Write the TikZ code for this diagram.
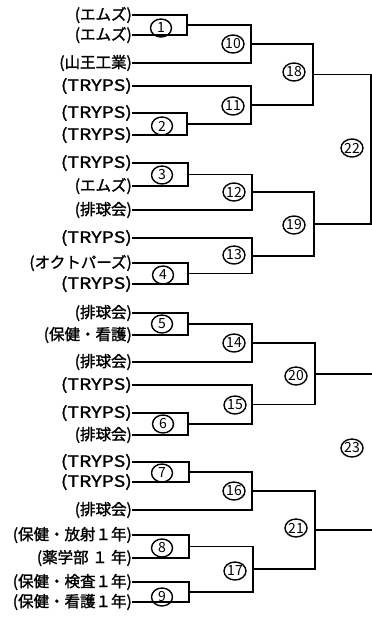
\documentclass[tikz,border=0pt]{standalone}
\usepackage{fontspec}
\newfontfamily\jp{Noto Sans CJK JP}[AutoFakeBold=1.5]
\newfontfamily\jplat{Noto Sans CJK JP}[FakeStretch=1.25, AutoFakeBold=1.5]
\usepackage{tikz}
\usetikzlibrary{positioning, shapes.geometric}

\begin{document}
\begin{tikzpicture}[x=1pt, y=-1pt]

\tikzstyle{team} = [anchor=east, inner sep=0pt, font=\jp\bfseries\fontsize{15.5}{16}\selectfont];
\tikzstyle{num} = [draw, ellipse, line width=1.4pt, inner sep=0pt, minimum width=21pt, minimum height=18pt, font=\jp\fontsize{14}{14}\selectfont];
\tikzstyle{line} = [line width=1.7pt];

\useasboundingbox (0,0) rectangle (372,621);

% teams
\node(t1) [team] at (132,15) {(エムズ)};
\node(t2) [team] at (132,35) {(エムズ)};
\node(t3) [team] at (132,63) {(山王工業)};
\node(t4) [team] at (132,86) {\jplat (TRYPS)};
\node(t5) [team] at (132,113) {\jplat (TRYPS)};
\node(t6) [team] at (132,135) {\jplat (TRYPS)};
\node(t7) [team] at (132,163) {\jplat (TRYPS)};
\node(t8) [team] at (132,186) {(エムズ)};
\node(t9) [team] at (132,210) {(排球会)};
\node(t10) [team] at (132,238) {\jplat (TRYPS)};
\node(t11) [team] at (132,263) {(オクトパーズ)};
\node(t12) [team] at (132,284) {\jplat (TRYPS)};
\node(t13) [team] at (132,313) {(排球会)};
\node(t14) [team] at (132,335) {(保健・看護)};
\node(t15) [team] at (132,362) {(排球会)};
\node(t16) [team] at (132,385) {\jplat (TRYPS)};
\node(t17) [team] at (132,413) {\jplat (TRYPS)};
\node(t18) [team] at (132,435) {(排球会)};
\node(t19) [team] at (132,462) {\jplat (TRYPS)};
\node(t20) [team] at (132,482) {\jplat (TRYPS)};
\node(t21) [team] at (132,510) {(排球会)};
\node(t22) [team] at (132,535) {(保健・放射１年)};
\node(t23) [team] at (132,558) {(薬学部 １ 年)};
\node(t24) [team] at (132,582) {(保健・検査１年)};
\node(t25) [team] at (132,602) {(保健・看護１年)};

% match points
\coordinate (m1) at (187,25);
\coordinate (m2) at (187,124);
\coordinate (m3) at (188,174.5);
\coordinate (m4) at (188,273.5);
\coordinate (m5) at (188,324);
\coordinate (m6) at (188,424);
\coordinate (m7) at (189,472);
\coordinate (m8) at (189,546.5);
\coordinate (m9) at (189,592);
\coordinate (m10) at (251,44);
\coordinate (m11) at (251,105);
\coordinate (m12) at (252,192);
\coordinate (m13) at (252,256);
\coordinate (m14) at (252,343);
\coordinate (m15) at (252,404.5);
\coordinate (m16) at (252,491);
\coordinate (m17) at (253,569);
\coordinate (m18) at (313,74.5);
\coordinate (m19) at (314,224);
\coordinate (m20) at (315,374);
\coordinate (m21) at (315,530);
\coordinate (m22) at (371,149);
\coordinate (f20) at (372,374);
\coordinate (f21) at (372,530);

% match numbers
\node(n1) [num] at (161,28) {1};
\node(n2) [num] at (162,126) {2};
\node(n3) [num] at (162,175) {3};
\node(n4) [num] at (163,275) {4};
\node(n5) [num] at (162,324) {5};
\node(n6) [num] at (163,424) {6};
\node(n7) [num] at (162,473) {7};
\node(n8) [num] at (162,548) {8};
\node(n9) [num] at (162,597) {9};
\node(n10) [num] at (233,44) {10};
\node(n11) [num] at (233,106) {11};
\node(n12) [num] at (234,192) {12};
\node(n13) [num] at (234,255) {13};
\node(n14) [num] at (234,343) {14};
\node(n15) [num] at (235,405) {15};
\node(n16) [num] at (234,491) {16};
\node(n17) [num] at (235,571) {17};
\node(n18) [num] at (294,72) {18};
\node(n19) [num] at (294,225) {19};
\node(n20) [num] at (296,376) {20};
\node(n21) [num] at (296,528) {21};
\node(n22) [num] at (352,148) {22};
\node(n23) [num] at (352,448) {23};

% first round
\draw [line] (t1.east) -| (m1) |- (t2.east);
\draw [line] (t5.east) -| (m2) |- (t6.east);
\draw [line] (t7.east) -| (m3) |- (t8.east);
\draw [line] (t11.east) -| (m4) |- (t12.east);
\draw [line] (t13.east) -| (m5) |- (t14.east);
\draw [line] (t17.east) -| (m6) |- (t18.east);
\draw [line] (t19.east) -| (m7) |- (t20.east);
\draw [line] (t22.east) -| (m8) |- (t23.east);
\draw [line] (t24.east) -| (m9) |- (t25.east);

% second round
\draw [line] (m1) -| (m10) |- (t3.east);
\draw [line] (t4.east) -| (m11) |- (m2);
\draw [line] (m3) -| (m12) |- (t9.east);
\draw [line] (t10.east) -| (m13) |- (m4);
\draw [line] (m5) -| (m14) |- (t15.east);
\draw [line] (t16.east) -| (m15) |- (m6);
\draw [line] (m7) -| (m16) |- (t21.east);
\draw [line] (m8) -| (m17) |- (m9);

% third round
\draw [line] (m10) -| (m18) |- (m11);
\draw [line] (m12) -| (m19) |- (m13);
\draw [line] (m14) -| (m20) |- (m15);
\draw [line] (m16) -| (m21) |- (m17);

% final rounds
\draw [line] (m18) -| (m22) |- (m19);
\draw [line] (m20) -- (f20);
\draw [line] (m21) -- (f21);

\end{tikzpicture}
\end{document}
